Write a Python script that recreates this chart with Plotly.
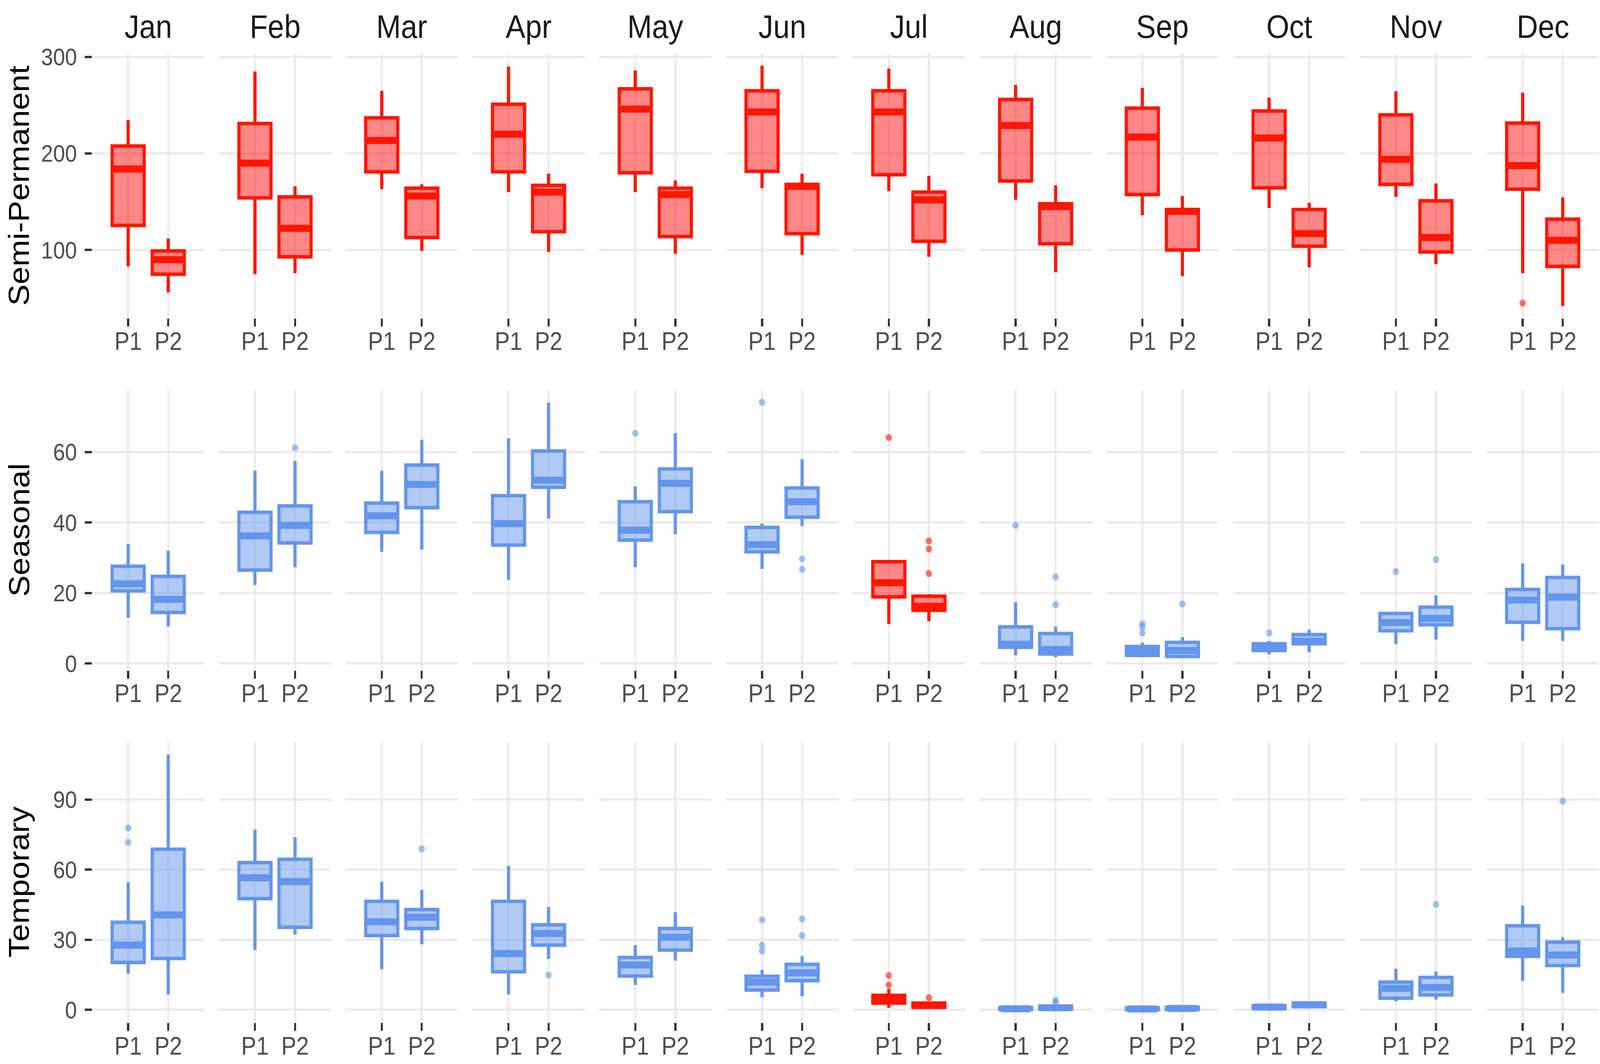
import plotly.graph_objects as go
from plotly.subplots import make_subplots

months = ["Jan", "Feb", "Mar", "Apr", "May", "Jun",
          "Jul", "Aug", "Sep", "Oct", "Nov", "Dec"]
periods = ["P1", "P2"]
groups = ["Semi-Permanent", "Seasonal", "Temporary"]

# box stats per month: [lower whisker, q1, median, q3, upper whisker]
semi_p1 = [[83, 125.5, 184, 207.7, 234.6], [75, 154, 190, 231, 285],
           [163, 181, 213.5, 237, 265], [160, 181, 220, 251, 290],
           [160, 180, 246, 267, 286], [164, 181.5, 243, 265, 291],
           [161, 178, 243, 265, 288], [152, 171.5, 229, 256, 271],
           [136, 157.5, 217, 247, 268], [143.5, 164.5, 216, 244, 258],
           [155, 168, 194, 240, 264.5], [76, 163, 187.5, 231.5, 263]]
semi_p2 = [[56, 75, 90, 99, 112], [76, 93, 122.5, 155, 166],
           [99, 113, 156, 164, 168], [98, 119, 160, 167, 179],
           [96, 114, 157.5, 164, 172], [95, 117, 166, 168, 179],
           [93, 109, 152, 160, 177], [77, 106.5, 145, 148, 167],
           [73, 100, 140, 142, 156], [82, 104, 117, 142, 149],
           [85.5, 98, 113, 151, 169], [42, 83, 110, 132, 154.5]]

seas_p1 = [[13.0, 20.6, 22.6, 27.6, 33.9], [22.3, 26.5, 36.2, 42.9, 54.7],
           [31.7, 37.2, 41.9, 45.5, 54.7], [23.8, 33.6, 39.7, 47.6, 63.9],
           [27.3, 35.0, 37.8, 45.9, 50.2], [26.8, 31.7, 33.7, 38.6, 39.7],
           [11.2, 18.9, 22.9, 28.9, 29.2], [2.3, 4.6, 5.5, 10.4, 17.4],
           [1.8, 2.3, 3.8, 4.8, 5.9], [2.6, 3.7, 4.6, 5.6, 6.4],
           [5.5, 9.3, 11.6, 14.2, 14.3], [6.4, 11.7, 18.0, 21.0, 28.4]]
seas_p2 = [[10.5, 14.5, 18.2, 24.7, 32.0], [27.3, 34.2, 39.2, 44.7, 57.5],
           [32.3, 44.2, 50.8, 56.3, 63.5], [41.1, 50.0, 52.0, 60.3, 74.0],
           [36.7, 43.1, 51.1, 55.2, 65.3], [39.0, 41.5, 45.9, 49.8, 58.0],
           [12.0, 15.1, 16.2, 19.1, 19.7], [1.8, 2.7, 4.0, 8.5, 10.5],
           [1.7, 2.0, 3.7, 6.0, 7.5], [3.2, 5.6, 6.3, 8.2, 9.6],
           [6.8, 11.0, 12.8, 16.0, 19.3], [6.4, 9.9, 18.8, 24.4, 28.1]]

temp_p1 = [[15.4, 20.3, 27.7, 37.5, 54.7], [25.6, 47.6, 56.5, 63.0, 77.1],
           [17.4, 31.8, 37.7, 46.4, 54.9], [6.6, 16.3, 24.1, 46.4, 61.6],
           [10.7, 14.5, 19.2, 22.4, 27.7], [5.5, 8.5, 11.9, 14.4, 17.1],
           [0.9, 2.9, 4.6, 6.2, 9.0], [0.0, 0.2, 0.5, 1.0, 1.4],
           [0.0, 0.1, 0.4, 0.9, 1.2], [0.3, 0.6, 1.2, 1.8, 2.1],
           [3.7, 5.0, 9.2, 11.9, 17.6], [12.4, 22.9, 25.2, 36.0, 44.7]]
temp_p2 = [[6.6, 22.0, 40.6, 68.7, 109.2], [32.2, 35.3, 54.9, 64.4, 73.9],
           [28.1, 34.8, 39.6, 42.9, 51.3], [21.8, 27.7, 32.7, 36.4, 44.1],
           [21.1, 25.6, 31.1, 34.8, 41.8], [5.8, 12.5, 15.8, 19.5, 22.9],
           [0.7, 1.1, 2.0, 2.9, 3.2], [0.0, 0.3, 0.9, 1.6, 2.3],
           [0.0, 0.2, 0.6, 1.1, 1.5], [0.8, 1.4, 2.2, 2.9, 3.4],
           [4.4, 6.4, 9.6, 13.9, 16.5], [7.3, 19.0, 23.5, 29.0, 31.1]]

# outliers: (month, period, value)
semi_out = [("Dec", "P1", 45)]
seas_out = [("Feb", "P2", 61.2), ("May", "P1", 65.3), ("Jun", "P1", 74.1),
            ("Jun", "P2", 29.7), ("Jun", "P2", 26.7), ("Jul", "P1", 64.1),
            ("Jul", "P2", 34.8), ("Jul", "P2", 32.5), ("Jul", "P2", 25.5),
            ("Aug", "P1", 39.2), ("Aug", "P2", 24.6), ("Aug", "P2", 16.7),
            ("Sep", "P1", 11.3), ("Sep", "P1", 10.4), ("Sep", "P1", 8.7),
            ("Sep", "P2", 16.9), ("Oct", "P1", 8.7), ("Nov", "P1", 26.1),
            ("Nov", "P2", 29.5)]
temp_out = [("Jan", "P1", 77.8), ("Jan", "P1", 71.7), ("Mar", "P2", 68.9),
            ("Apr", "P2", 14.9), ("Jun", "P1", 38.5), ("Jun", "P1", 27.7),
            ("Jun", "P1", 25.2), ("Jun", "P2", 38.9), ("Jun", "P2", 31.8),
            ("Jul", "P1", 14.7), ("Jul", "P1", 10.7), ("Jul", "P2", 5.2),
            ("Aug", "P2", 4.1), ("Aug", "P2", 3.2), ("Nov", "P2", 45.1),
            ("Dec", "P2", 89.3)]

# months drawn in red per group
red_months = [months, ["Jul"], ["Jul"]]

y_ranges = [[29.5, 303.5], [-1.9, 77.7], [-5.5, 114.7]]
y_dticks = [100, 20, 30]

W, H = 4550, 2725
FONT = "Liberation Sans, Arial, sans-serif"
RED_LINE, RED_FILL = "#FF1500", "rgba(255,0,0,0.47)"
BLUE_LINE, BLUE_FILL = "#6495ED", "rgba(100,149,237,0.5)"

# panel geometry in pixels (of the 4550x2725 design)
row_px = [(114, 802), (988, 1718), (1904, 2635)]
col_left0, col_step, col_w = 262, 360.5, 319

stats = [(semi_p1, semi_p2), (seas_p1, seas_p2), (temp_p1, temp_p2)]
outs = [semi_out, seas_out, temp_out]

fig = make_subplots(rows=3, cols=12)

for r in range(3):
    p1s, p2s = stats[r]
    for c, m in enumerate(months):
        red = m in red_months[r]
        lc = RED_LINE if red else BLUE_LINE
        fc = RED_FILL if red else BLUE_FILL
        a, b = p1s[c], p2s[c]
        fig.add_trace(go.Box(
            x=[1, 2],
            lowerfence=[a[0], b[0]], q1=[a[1], b[1]], median=[a[2], b[2]],
            q3=[a[3], b[3]], upperfence=[a[4], b[4]],
            width=0.8, whiskerwidth=0, boxpoints=False,
            fillcolor=fc, line=dict(color=lc, width=9),
            hoverinfo="skip", showlegend=False,
        ), row=r + 1, col=c + 1)
        # thicker median bar like ggplot
        fig.add_trace(go.Scatter(
            x=[0.63, 1.37, None, 1.63, 2.37],
            y=[a[2], a[2], None, b[2], b[2]],
            mode="lines", line=dict(color=lc, width=18),
            hoverinfo="skip", showlegend=False,
        ), row=r + 1, col=c + 1)
        pts = [(periods.index(p) + 1, v) for (mm, p, v) in outs[r] if mm == m]
        if pts:
            fig.add_trace(go.Scatter(
                x=[p[0] for p in pts], y=[p[1] for p in pts],
                mode="markers",
                marker=dict(color=lc, size=18, opacity=0.6, line=dict(width=0)),
                hoverinfo="skip", showlegend=False,
            ), row=r + 1, col=c + 1)

for r in range(3):
    top, bot = row_px[r]
    for c in range(12):
        left = col_left0 + c * col_step
        fig.update_xaxes(
            domain=[left / W, (left + col_w) / W],
            range=[0.1, 2.9], tickvals=[1, 2], ticktext=periods,
            showgrid=True, gridcolor="#EBEBEB", gridwidth=6,
            zeroline=False, showline=False,
            ticks="outside", ticklen=20, tickwidth=6, tickcolor="#333333",
            ticklabelstandoff=-16,
            tickfont=dict(family=FONT, size=64, color="#4D4D4D"),
            row=r + 1, col=c + 1,
        )
        fig.update_yaxes(
            domain=[1 - bot / H, 1 - top / H],
            range=y_ranges[r], dtick=y_dticks[r], tick0=0,
            showgrid=True, gridcolor="#EBEBEB", gridwidth=6,
            zeroline=False, showline=False,
            ticks="outside" if c == 0 else "", ticklen=20, tickwidth=6,
            tickcolor="#333333", showticklabels=(c == 0),
            ticklabelstandoff=10,
            tickfont=dict(family=FONT, size=61, color="#4D4D4D"),
            row=r + 1, col=c + 1,
        )

annotations = []
for c, m in enumerate(months):
    left = col_left0 + c * col_step
    annotations.append(dict(
        text=m, x=(left + col_w / 2) / W, y=1 - 44 / H,
        xref="paper", yref="paper", xanchor="center", yanchor="middle",
        showarrow=False, font=dict(family=FONT, size=84, color="#1A1A1A"),
    ))
for r, g in enumerate(groups):
    top, bot = row_px[r]
    annotations.append(dict(
        text=g, x=54 / W, y=1 - (top + bot) / 2 / H,
        xref="paper", yref="paper", xanchor="center", yanchor="middle",
        textangle=-90, showarrow=False,
        font=dict(family=FONT, size=82, color="black"),
    ))

fig.update_layout(
    width=W, height=H,
    margin=dict(l=0, r=0, t=0, b=0),
    paper_bgcolor="white", plot_bgcolor="white",
    showlegend=False,
    annotations=annotations,
)

# fit the fixed-size figure into whatever viewport the page gets
fit_js = """
var gd = document.getElementById('{plot_id}');
var W = %d, H = %d;
document.documentElement.style.overflow = 'hidden';
document.body.style.margin = '0';
document.body.style.overflow = 'hidden';
var vw = window.innerWidth, vh = window.innerHeight;
var box = gd.parentElement;
box.style.width = vw + 'px';
box.style.height = vh + 'px';
box.style.overflow = 'hidden';
gd.style.transformOrigin = '0 0';
gd.style.transform = 'scale(' + (vw / W) + ',' + (vh / H) + ')';
""" % (W, H)

fig.write_html("out.html", post_script=fit_js,
               config={"displayModeBar": False})
